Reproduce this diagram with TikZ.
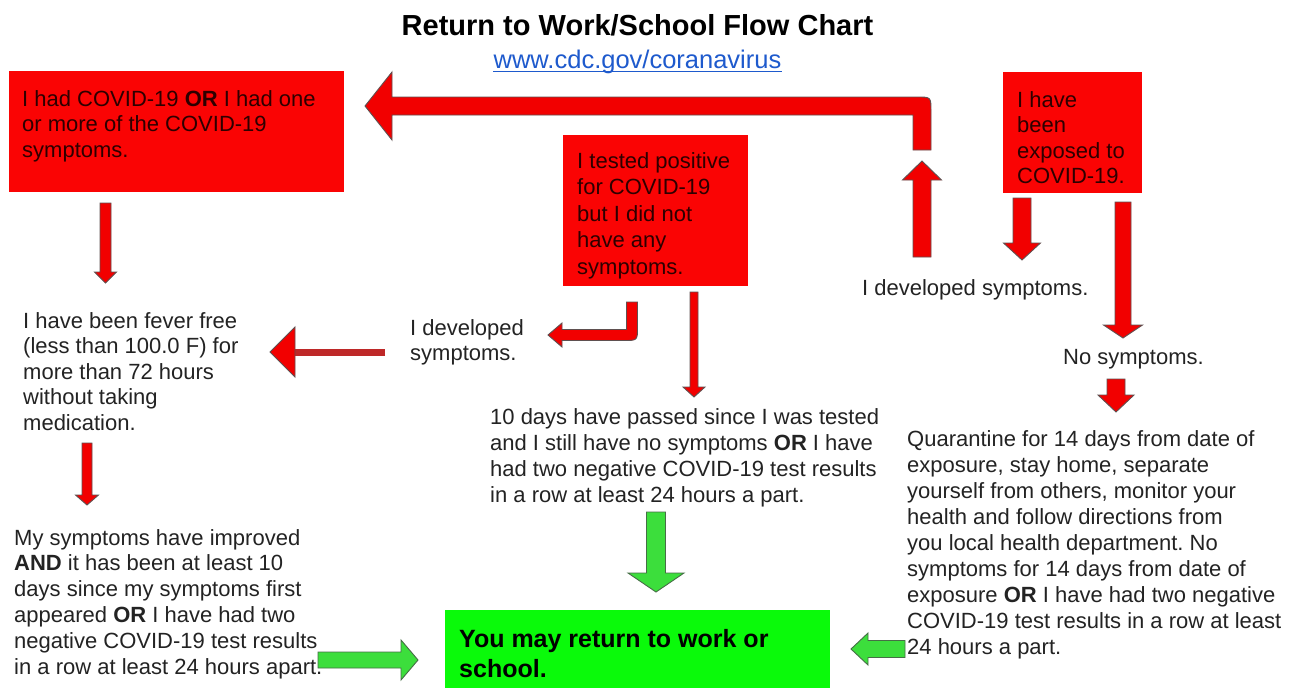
\documentclass[tikz,border=0pt]{standalone}
\usepackage{fontspec}
\setmainfont{Liberation Sans}
\usetikzlibrary{calc}
\frenchspacing
\definecolor{boxred}{RGB}{250,4,4}
\definecolor{arrred}{RGB}{242,0,0}
\definecolor{darkshaft}{RGB}{190,40,40}
\definecolor{arrline}{RGB}{95,80,80}
\definecolor{boxgreen}{RGB}{10,250,10}
\definecolor{arrgreen}{RGB}{60,222,60}
\definecolor{greenline}{RGB}{70,110,70}
\definecolor{bodygray}{RGB}{35,35,35}
\definecolor{redtext}{RGB}{45,0,0}
\definecolor{linkblue}{RGB}{30,90,205}
% block arrow: #1 style, #2 start, #3 tip, #4 shaft half width, #5 head half width, #6 head length
\newcommand{\blockarrow}[6]{%
  \coordinate (baC) at ($(#3)!#6!(#2)$);
  \draw[#1] ($(#2)!#4!90:(#3)$) -- ($(baC)!#4!90:(#3)$) -- ($(baC)!#5!90:(#3)$) -- (#3)
    -- ($(baC)!#5!-90:(#3)$) -- ($(baC)!#4!-90:(#3)$) -- ($(#2)!#4!-90:(#3)$) -- cycle;
}
\begin{document}
\begin{tikzpicture}[x=1pt,y=-1pt,
  redbox/.style={fill=boxred, draw=none, anchor=north west, inner sep=0pt},
  greenbox/.style={fill=boxgreen, draw=none, anchor=north west, inner sep=0pt},
  txt/.style={anchor=north west, inner sep=0pt, align=left, text=bodygray,
              font=\fontsize{22}{25.8}\selectfont},
  rtxt/.style={txt, text=redtext},
  redarrow/.style={fill=arrred, draw=arrline, line width=0.9pt, line join=miter},
  greenarrow/.style={fill=arrgreen, draw=greenline, line width=0.9pt},
]
\fill[white] (0,0) rectangle (1296,688);
\useasboundingbox (0,0) rectangle (1296,688);

% title and link
\node[anchor=base, inner sep=0pt, font=\fontsize{29}{34}\selectfont\bfseries, text=black]
  (title) at (637.5,35) {Return to Work/School Flow Chart};
\node[anchor=base, inner sep=0pt, font=\fontsize{25.5}{30}\selectfont, text=linkblue]
  (url) at (637.5,68) {www.cdc.gov/coranavirus};
\draw[linkblue, line width=1pt] ($(url.base west)+(0,3)$) -- ($(url.base east)+(0,3)$);

% red boxes
\node[redbox, minimum width=335pt, minimum height=121pt] (boxA) at (9,71) {};
\node[rtxt] (boxAt) at ($(boxA.north west)+(13,19)$)
  {I had COVID-19 \textbf{OR} I had one\\or more of the COVID-19\\symptoms.};

\node[redbox, minimum width=185pt, minimum height=151pt] (boxT) at (563,135) {};
\node[rtxt, font=\fontsize{22}{26.5}\selectfont] (boxTt) at ($(boxT.north west)+(14,17)$)
  {I tested positive\\for COVID-19\\but I did not\\have any\\symptoms.};

\node[redbox, minimum width=139pt, minimum height=121pt] (boxE) at (1003,72) {};
\node[rtxt, font=\fontsize{22}{25.5}\selectfont] (boxEt) at ($(boxE.north west)+(14,19)$)
  {I have\\been\\exposed to\\COVID-19.};

% green box
\node[greenbox, minimum width=385pt, minimum height=78pt] (boxG) at (445,610) {};
\node[txt, text=black, font=\fontsize{25}{30}\selectfont\bfseries] (boxGt)
  at ($(boxG.north west)+(14,19)$) {You may return to work or\\school.};

% plain texts
\node[txt, font=\fontsize{22}{25.5}\selectfont] (fever) at (23,312)
  {I have been fever free\\(less than 100.0 F) for\\more than 72 hours\\without taking\\medication.};
\node[txt] (improved) at (14,529)
  {My symptoms have improved\\\textbf{AND} it has been at least 10\\days since my symptoms first\\appeared \textbf{OR} I have had two\\negative COVID-19 test results\\in a row at least 24 hours apart.};
\node[txt, font=\fontsize{22}{25}\selectfont] (devmid) at (410,319) {I developed\\symptoms.};
\node[txt, font=\fontsize{22}{26}\selectfont] (tendays) at (490,408)
  {10 days have passed since I was tested\\and I still have no symptoms \textbf{OR} I have\\had two negative COVID-19 test results\\in a row at least 24 hours a part.};
\node[txt] (devright) at (862,279) {I developed symptoms.};
\node[txt] (nosym) at (1063,349) {No symptoms.};
\node[txt, font=\fontsize{22}{26}\selectfont] (quar) at (907,430)
  {Quarantine for 14 days from date of\\exposure, stay home, separate\\yourself from others, monitor your\\health and follow directions from\\you local health department. No\\symptoms for 14 days from date of\\exposure \textbf{OR} I have had two negative\\COVID-19 test results in a row at least\\24 hours a part.};

% arrow end points
\coordinate (a1s) at (105.5,203);  \coordinate (a1t) at (105.5,283);
\coordinate (a2s) at (87,443);     \coordinate (a2t) at (87,505);
\coordinate (a3s) at (694,292);    \coordinate (a3t) at (694,397);
\coordinate (a4s) at (922,257);    \coordinate (a4t) at (922,161);
\coordinate (a5s) at (1022,198);   \coordinate (a5t) at (1022,260);
\coordinate (a6s) at (1123,202);   \coordinate (a6t) at (1123,338);
\coordinate (a7s) at (1116,379);   \coordinate (a7t) at (1116,412);
\coordinate (g1s) at (656,512);    \coordinate (g1t) at (656,592);
\coordinate (g2s) at (318,660);    \coordinate (g2t) at (418,660);
\coordinate (g3s) at (905,649);    \coordinate (g3t) at (851,649);
\coordinate (fvs) at (385,352);    \coordinate (fvt) at (270,352);

% red straight arrows
\blockarrow{redarrow}{a1s}{a1t}{5.5pt}{11pt}{11pt}
\blockarrow{redarrow}{a2s}{a2t}{5pt}{11.5pt}{10pt}
\blockarrow{redarrow}{a3s}{a3t}{4pt}{11pt}{10pt}
\blockarrow{redarrow}{a4s}{a4t}{9pt}{19.5pt}{19pt}
\blockarrow{redarrow}{a5s}{a5t}{9pt}{18.5pt}{17pt}
\blockarrow{redarrow}{a6s}{a6t}{8pt}{19.5pt}{13pt}
\blockarrow{redarrow}{a7s}{a7t}{9pt}{18pt}{17pt}

% arrow to fever text: dark thin shaft, bright head
\draw[darkshaft, line width=7pt] (fvs) -- ($(fvt)+(25,0)$);
\draw[redarrow] ($(fvt)+(25,-25)$) -- (fvt) -- ($(fvt)+(25,25)$) -- cycle;

% big bent arrow back to the first box
\coordinate (topS) at (922,150);
\draw[redarrow] (913,150) -- (913,115) -- (392,115) -- (392,140) -- (365,106)
  -- (392,72) -- (392,97) -- (917,97) .. controls (931,97) .. (931,111) -- (931,150) -- cycle;

% small bent arrow under the tested box
\draw[redarrow] (562,340.5) -- (624,340.5) .. controls (637.5,340.5) .. (637.5,327)
  -- (637.5,302) -- (626.5,302) -- (626.5,329.5) -- (562,329.5) -- (562,323)
  -- (548,335) -- (562,347) -- cycle;

% green arrows
\blockarrow{greenarrow}{g1s}{g1t}{9.5pt}{28pt}{19pt}
\blockarrow{greenarrow}{g2s}{g2t}{8pt}{20pt}{17pt}
\blockarrow{greenarrow}{g3s}{g3t}{8.5pt}{16pt}{17pt}
\end{tikzpicture}
\end{document}
